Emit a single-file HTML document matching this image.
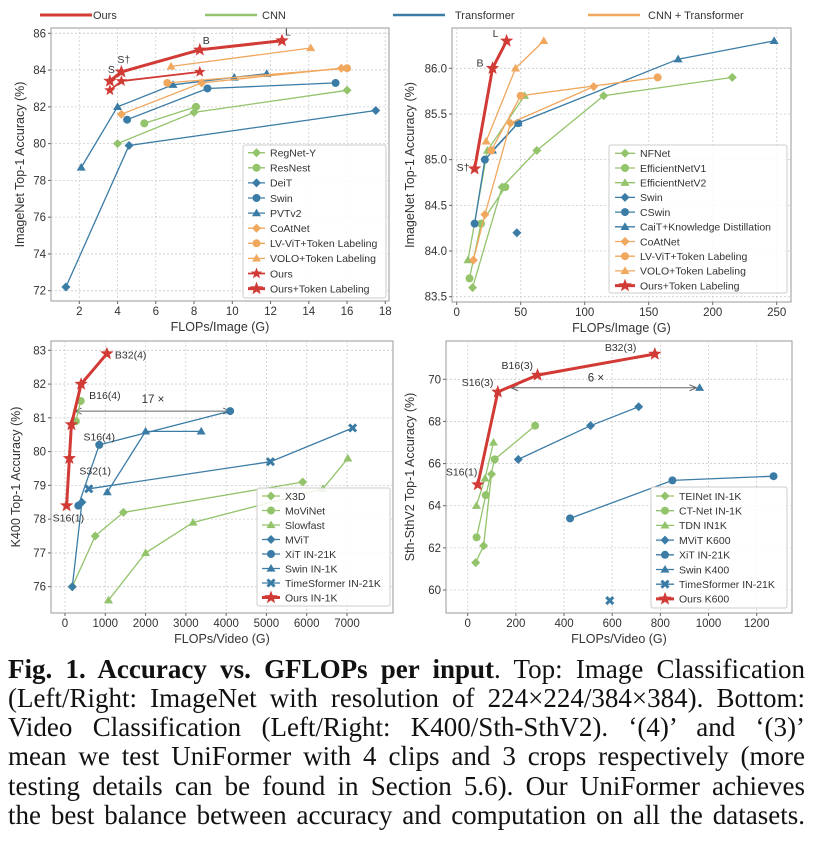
<!DOCTYPE html>
<html><head><meta charset="utf-8">
<style>
body{margin:0;background:#fff;width:817px;height:857px;overflow:hidden;position:relative;font-family:"Liberation Sans","DejaVu Sans",sans-serif}
svg{position:absolute;left:0;top:0}
.cap{position:absolute;left:8px;width:797px;font-family:"Liberation Serif",serif;font-size:27px;line-height:29px;white-space:nowrap;text-align:justify;text-align-last:justify;color:#111}
</style></head><body>
<svg id="fig" width="817" height="650"></svg>
<div class="cap" style="top:655px"><b>Fig. 1. Accuracy vs. GFLOPs per input</b>. Top: Image Classification</div>
<div class="cap" style="top:684px">(Left/Right: ImageNet with resolution of 224×224/384×384). Bottom:</div>
<div class="cap" style="top:713px">Video Classification (Left/Right: K400/Sth-SthV2). ‘(4)’ and ‘(3)’</div>
<div class="cap" style="top:742px">mean we test UniFormer with 4 clips and 3 crops respectively (more</div>
<div class="cap" style="top:772px">testing details can be found in Section 5.6). Our UniFormer achieves</div>
<div class="cap" style="top:801px">the best balance between accuracy and computation on all the datasets.</div>
<script>
const RED='#d13a35',GRN='#93c36b',BLU='#3b7ca6',ORG='#f0a75e';
// ---- Panel 1 data ----
const p1Names=['RegNet-Y','ResNest','DeiT','Swin','PVTv2','CoAtNet','LV-ViT+Token Labeling','VOLO+Token Labeling','Ours','Ours+Token Labeling'];
const p1X=[[4,8,16],[5.4,8.1],[1.3,4.6,17.5],[4.5,8.7,15.4],[2.1,4.0,6.9,10.1,11.8],[4.2,8.4,15.7],[6.6,16.0],[6.8,14.1],[3.6,4.2,8.3],[3.6,4.2,8.3,12.6]];
const p1Y=[[80.0,81.7,82.9],[81.1,82.0],[72.2,79.9,81.8],[81.3,83.0,83.3],[78.7,82.0,83.2,83.6,83.8],[81.6,83.3,84.1],[83.3,84.1],[84.2,85.2],[82.9,83.4,83.9],[83.4,83.9,85.1,85.6]];
const p1XTicks=[2,4,6,8,10,12,14,16,18];
const p1YTicks=[72,74,76,78,80,82,84,86];
// ---- Panel 2 data ----
const p2Names=['NFNet','EfficientNetV1','EfficientNetV2','Swin','CSwin','CaiT+Knowledge Distillation','CoAtNet','LV-ViT+Token Labeling','VOLO+Token Labeling','Ours+Token Labeling'];
const p2X=[[12.4,35.5,62.6,114.8,215.3],[10,19,38],[8.8,24,53],[47],[14,22,48],[28,48,173,248],[13,22,42,107],[27,50,157],[23,46,68],[14,28,39]];
const p2Y=[[83.6,84.7,85.1,85.7,85.9],[83.7,84.3,84.7],[83.9,85.1,85.7],[84.2],[84.3,85.0,85.4],[85.1,85.4,86.1,86.3],[83.9,84.4,85.4,85.8],[85.1,85.7,85.9],[85.2,86.0,86.3],[84.9,86.0,86.3]];
const p2XTicks=[0,50,100,150,200,250];
const p2YTicks=[83.5,84.0,84.5,85.0,85.5,86.0];
// ---- Panel 3 data ----
const p3Names=['X3D','MoViNet','Slowfast','MViT','XiT IN-21K','Swin IN-1K','TimeSformer IN-21K','Ours IN-1K'];
const p3X=[[180,750,1450,5900],[270,390],[1080,2000,3180,6400,7020],[180,420],[330,850,4100],[1050,2000,3380],[590,5100,7140],[40,110,160,400,1040]];
const p3Y=[[76.0,77.5,78.2,79.1],[80.9,81.5],[75.6,77.0,77.9,78.9,79.8],[76.0,78.5],[78.4,80.2,81.2],[78.8,80.6,80.6],[78.9,79.7,80.7],[78.4,79.8,80.8,82.0,82.9]];
const p3XTicks=[0,1000,2000,3000,4000,5000,6000,7000];
const p3YTicks=[76,77,78,79,80,81,82,83];
// ---- Panel 4 data ----
const p4Names=['TEINet IN-1K','CT-Net IN-1K','TDN IN1K','MViT K600','XiT IN-21K','Swin K400','TimeSformer IN-21K','Ours K600'];
const p4X=[[33,66,99],[37,75,112,280],[36,72,107],[210,510,710],[425,850,1270],[963],[590],[42,125,290,777]];
const p4Y=[[61.3,62.1,65.5],[62.5,64.5,66.2,67.8],[64.0,65.3,67.0],[66.2,67.8,68.7],[63.4,65.2,65.4],[69.6],[59.5],[65.0,69.4,70.2,71.2]];
const p4XTicks=[0,200,400,600,800,1000,1200];
const p4YTicks=[60,62,64,66,68,70];

const NS='http://www.w3.org/2000/svg';
const svg=document.getElementById('fig');
function el(tag,attrs,parent){const e=document.createElementNS(NS,tag);for(const k in attrs)e.setAttribute(k,attrs[k]);(parent||svg).appendChild(e);return e;}
function txt(s,x,y,attrs,parent){const t=el('text',Object.assign({x:x,y:y,'font-size':11,fill:'#333'},attrs),parent);t.textContent=s;return t;}
function marker(g,m,x,y,c,big){
  let e;
  if(m==='d'){const r=4.5;e=el('path',{d:`M${x},${y-r}L${x+r},${y}L${x},${y+r}L${x-r},${y}Z`,fill:c},g);}
  else if(m==='o'){e=el('circle',{cx:x,cy:y,r:4,fill:c},g);}
  else if(m==='^'){const r=4.5;e=el('path',{d:`M${x},${y-r}L${x+r},${y+r*0.7}L${x-r},${y+r*0.7}Z`,fill:c},g);}
  else if(m==='x'){e=el('path',{d:`M${x-3.5},${y-3.5}L${x+3.5},${y+3.5}M${x+3.5},${y-3.5}L${x-3.5},${y+3.5}`,stroke:c,'stroke-width':3},g);}
  else if(m==='*'){const R=big?7:6,r=R*0.42;let d='';for(let i=0;i<10;i++){const a=-Math.PI/2+i*Math.PI/5,rr=i%2?r:R;d+=(i?'L':'M')+(x+rr*Math.cos(a)).toFixed(1)+','+(y+rr*Math.sin(a)).toFixed(1);}e=el('path',{d:d+'Z',fill:c},g);}
  return e;
}
function panel(P){
  const g=el('g',{});
  
  
  const sx=v=>P.x0+(v-P.xa)*(P.x1-P.x0)/(P.xb-P.xa);
  const sy=v=>P.y0+(v-P.ya)*(P.y1-P.y0)/(P.yb-P.ya);
  const B=P.box;
  el('rect',{x:B[0],y:B[1],width:B[2]-B[0],height:B[3]-B[1],fill:'#fff',stroke:'#999','stroke-width':1},g);
  P.xt.forEach(v=>{const X=sx(v);el('line',{x1:X,x2:X,y1:B[1],y2:B[3],stroke:'#ccc','stroke-dasharray':'2,2','stroke-width':0.8},g);
    el('line',{x1:X,x2:X,y1:B[3],y2:B[3]+3,stroke:'#666'},g);
    const t=txt(String(v),X,B[3]+14,{'text-anchor':'middle','font-size':11.5},g);});
  P.yt.forEach(v=>{const Y=sy(v);el('line',{x1:B[0],x2:B[2],y1:Y,y2:Y,stroke:'#ccc','stroke-dasharray':'2,2','stroke-width':0.8},g);
    el('line',{x1:B[0]-3,x2:B[0],y1:Y,y2:Y,stroke:'#666'},g);
    const t=txt(P.yfmt?v.toFixed(1):String(v),B[0]-5,Y+4,{'text-anchor':'end','font-size':11.5},g);});
  const xl=txt(P.xlabel,(B[0]+B[2])/2,B[3]+30,{'text-anchor':'middle','font-size':12.5},g);
  
  const yl=txt(P.ylabel,0,0,{'text-anchor':'middle','font-size':12.5,transform:`translate(${P.ylx},${(B[1]+B[3])/2}) rotate(-90)`},g);
  
  if(P.extra)P.extra(g,sx,sy);
  P.names.forEach((n,i)=>{
    const s=el('g',{},g);
    
    
    const c=P.col[i],m=P.mk[i],w=P.lw[i];
    const pts=P.X[i].map((v,j)=>sx(v).toFixed(1)+','+sy(P.Y[i][j]).toFixed(1)).join(' ');
    if(P.X[i].length>1)el('polyline',{points:pts,fill:'none',stroke:c,'stroke-width':w},s);
    P.X[i].forEach((v,j)=>{const mm=marker(s,m,sx(v),sy(P.Y[i][j]),c,w>2);});
  });
  if(P.labels)P.labels.forEach(L=>{const t=txt(L[0],sx(L[1])+L[3],sy(L[2])+L[4],{'font-size':10.5},g);});
  const Lg=P.leg;
  const lg=el('g',{},g);
  
  
  el('rect',{x:Lg.x,y:Lg.y,width:Lg.w,height:Lg.h,fill:'#fff','fill-opacity':0.85,stroke:'#ccc',rx:2},lg);
  P.names.forEach((n,i)=>{
    const e=el('g',{},lg);
    
    
    const Y=Lg.fy+i*Lg.dy;
    el('line',{x1:Lg.lx,x2:Lg.lx+Lg.ll,y1:Y,y2:Y,stroke:P.col[i],'stroke-width':P.lw[i]},e);
    marker(e,P.mk[i],Lg.lx+Lg.ll/2,Y,P.col[i],P.lw[i]>2);
    txt(n,Lg.lx+Lg.ll+5,Y+3.8,{'font-size':10.5},e);
  });
}
function arrow(g,x1,x2,y){
  el('line',{x1:x1,x2:x2,y1:y,y2:y,stroke:'#666','stroke-width':1},g);
  el('path',{d:`M${x1+7},${y-3}L${x1},${y}L${x1+7},${y+3}M${x2-7},${y-3}L${x2},${y}L${x2-7},${y+3}`,stroke:'#666',fill:'none'},g);
}
panel({name:'imagenet-224-chart',box:[51,28,389,301],x0:79.3,xa:2,x1:385.3,xb:18,y0:33.3,ya:86,y1:290.7,yb:72,
 xt:p1XTicks,yt:p1YTicks,xlabel:'FLOPs/Image (G)',ylabel:'ImageNet Top-1 Accuracy (%)',ylx:24,
 names:p1Names,X:p1X,Y:p1Y,col:[GRN,GRN,BLU,BLU,BLU,ORG,ORG,ORG,RED,RED],mk:['d','o','d','o','^','d','o','^','*','*'],lw:[1.3,1.3,1.3,1.3,1.3,1.3,1.3,1.3,1.8,3],
 labels:[['S',3.6,83.4,-2,-8],['S†',4.2,83.9,-4,-9],['B',8.3,85.1,3,-6],['L',12.6,85.6,3,-5]],
 leg:{x:243,y:145,w:143,h:153,fy:152.7,dy:15.1,lx:248,ll:17}});
panel({name:'imagenet-384-chart',box:[452,28,791,302],x0:456.7,xa:0,x1:776.7,xb:250,y0:68.3,ya:86,y1:296.7,yb:83.5,
 xt:p2XTicks,yt:p2YTicks,yfmt:true,xlabel:'FLOPs/Image (G)',ylabel:'ImageNet Top-1 Accuracy (%)',ylx:414,
 names:p2Names,X:p2X,Y:p2Y,col:[GRN,GRN,GRN,BLU,BLU,BLU,ORG,ORG,ORG,RED],mk:['d','o','^','d','o','^','d','o','^','*'],lw:[1.3,1.3,1.3,1.3,1.3,1.3,1.3,1.3,1.3,3],
 labels:[['S†',14,84.9,-18,2],['B',28,86.0,-16,-2],['L',39,86.3,-14,-4]],
 leg:{x:609,y:145,w:178,h:148,fy:153.3,dy:14.7,lx:615,ll:20}});
panel({name:'k400-chart',box:[51,341,393,613],x0:65,xa:0,x1:347,xb:7000,y0:350.3,ya:83,y1:586.7,yb:76,
 xt:p3XTicks,yt:p3YTicks,xlabel:'FLOPs/Video (G)',ylabel:'K400 Top-1 Accuracy (%)',ylx:20,
 names:p3Names,X:p3X,Y:p3Y,col:[GRN,GRN,GRN,BLU,BLU,BLU,BLU,RED],mk:['d','o','^','d','o','^','x','*'],lw:[1.3,1.3,1.3,1.3,1.3,1.3,1.3,3],
 labels:[['B32(4)',1040,82.9,8,5],['B16(4)',400,82.0,8,15],['S16(4)',160,80.8,12,16],['S32(1)',110,79.8,10,16],['S16(1)',40,78.4,-14,16]],
 extra:(g,sx,sy)=>{arrow(g,sx(240),sx(4100),sy(81.2));const t=txt('17 ×',sx(2200)-12,sy(81.2)-8,{'font-size':11.5},g);},
 leg:{x:257,y:488,w:133,h:118,fy:496,dy:14.5,lx:262,ll:18}});
panel({name:'sthv2-chart',box:[446,341,792,613],x0:467.7,xa:0,x1:756.7,xb:1200,y0:379.3,ya:70,y1:590,yb:60,
 xt:p4XTicks,yt:p4YTicks,xlabel:'FLOPs/Video (G)',ylabel:'Sth-SthV2 Top-1 Accuracy (%)',ylx:414,
 names:p4Names,X:p4X,Y:p4Y,col:[GRN,GRN,GRN,BLU,BLU,BLU,BLU,RED],mk:['d','o','^','d','o','^','x','*'],lw:[1.3,1.3,1.3,1.3,1.3,1.3,1.3,3],
 labels:[['B32(3)',777,71.2,-50,-3],['B16(3)',290,70.2,-36,-6],['S16(3)',125,69.4,-36,-6],['S16(1)',42,65.0,-32,-9]],
 extra:(g,sx,sy)=>{arrow(g,sx(180),sx(950),sy(69.6));const t=txt('6 ×',sx(540)-10,sy(69.6)-6,{'font-size':11.5},g);},
 leg:{x:651,y:487,w:136,h:121,fy:496,dy:14.7,lx:656,ll:18}});
const tl=el('g',{});


[['Ours',RED,40,93,3],['CNN',GRN,205,262,2.5],['Transformer',BLU,393,455,2.5],['CNN + Transformer',ORG,588,648,2.5]].forEach(a=>{
  const e=el('g',{},tl);
  
  
  el('line',{x1:a[2],x2:a[2]+52,y1:15,y2:15,stroke:a[1],'stroke-width':a[4]},e);
  txt(a[0],a[3],19,{'font-size':11},e);
});
</script>
</body></html>
